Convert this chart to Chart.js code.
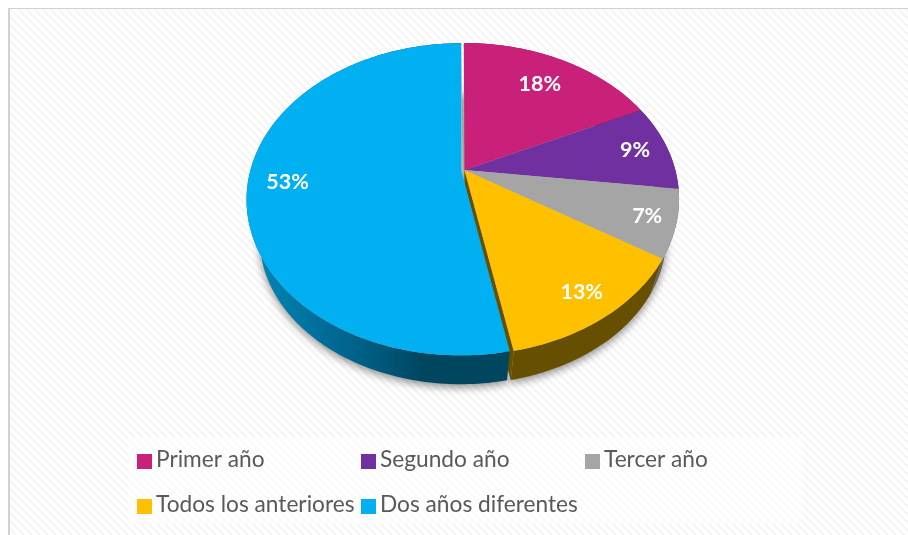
<!DOCTYPE html>
<html><head><meta charset="utf-8">
<style>html,body{margin:0;padding:0;background:#fff}canvas{display:block}</style>
<script src="https://cdn.jsdelivr.net/npm/chart.js@4"></script>
</head><body><canvas id="c" width="908" height="535"></canvas>
<script>
const categories = ['Primer año','Segundo año','Tercer año','Todos los anteriores','Dos años diferentes'];
const values = [18, 9, 7, 13, 53];
const colors = ['#C9217A','#7030A0','#A5A5A5','#FFC000','#00B0F0'];
const sideColors = ['#791349','#431D60','#636363','#665000','#00506F'];
const labelRadii = [0.75, 0.84, 0.87, 0.855, 0.815];
const sliceOffsets = [0, 0, 0, 0, 12];

const FONT = 'Lato, Carlito, sans-serif';
const P = {d:0.186, K:210.8, k:150.6, topDy:-29, lowDy:11, lowScale:0.94};

function proj(el, ang, r, level, su, sv){
  const R = el.outerRadius;
  const u = r*Math.cos(ang) + su/R, v = r*Math.sin(ang) + sv/R;
  const den = 1 - P.d*v, s = level ? P.lowScale : 1;
  return [el.x + P.K*s*u/den, el.y + (level?P.lowDy:P.topDy) + P.k*s*v/den];
}
function shiftOf(el){
  const mid = (el.startAngle+el.endAngle)/2, o = (el.options.offset||0)/4;
  return [Math.cos(mid)*o, Math.sin(mid)*o];
}
function rim(ctx, el, a, b, level, first){
  const [su,sv] = shiftOf(el);
  const n = Math.max(2, Math.ceil(Math.abs(b-a)/0.02));
  for(let i=0;i<=n;i++){
    const p = proj(el, a+(b-a)*i/n, 1, level, su, sv);
    if(i===0 && first) ctx.moveTo(p[0],p[1]); else ctx.lineTo(p[0],p[1]);
  }
}
Chart.ArcElement.prototype.draw = function(ctx){
  const [su,sv] = shiftOf(this);
  const c = proj(this, 0, 0, 0, su, sv);
  ctx.save();
  ctx.beginPath();
  ctx.moveTo(c[0],c[1]);
  rim(ctx,this,this.startAngle,this.endAngle,0,false);
  ctx.closePath();
  ctx.fillStyle = this.options.backgroundColor;
  ctx.fill();
  ctx.restore();
};

const pie3d = {
  id:'pie3d',
  beforeDraw(chart){
    const ctx = chart.ctx;
    const t = document.createElement('canvas'); t.width=8; t.height=8;
    const g = t.getContext('2d');
    g.fillStyle='#fff'; g.fillRect(0,0,8,8);
    g.fillStyle='#f5f5f5';
    for(let y=0;y<8;y++)for(let x=0;x<8;x++){ if(((x-y+16)%8)<3) g.fillRect(x,y,1,1); }
    ctx.save();
    ctx.fillStyle='#fff'; ctx.fillRect(0,0,908,535);
    ctx.fillStyle=ctx.createPattern(t,'repeat'); ctx.fillRect(10,9,898,526);
    ctx.fillStyle='#d2d2d2'; ctx.fillRect(8,8,2,527); ctx.fillRect(8,8,900,1);
    ctx.fillStyle='rgba(255,255,255,0.6)'; ctx.fillRect(128,438,673,86);
    ctx.restore();
  },
  beforeDatasetsDraw(chart){
    const ctx = chart.ctx, arcs = chart.getDatasetMeta(0).data;
    ctx.save();
    // soft shadow below the solid
    ctx.save();
    ctx.shadowColor='rgba(0,0,0,0.45)'; ctx.shadowBlur=9; ctx.shadowOffsetY=3;
    ctx.fillStyle='#b5b5b5';
    arcs.forEach(el=>{
      ctx.beginPath();
      rim(ctx,el,el.startAngle,el.endAngle,1,true);
      const c = proj(el,0,0,1,0,0);
      ctx.lineTo(c[0],c[1]);
      ctx.closePath(); ctx.fill();
    });
    ctx.restore();
    // cut wall of the slice next to the pulled-out one
    const y = arcs[3];
    const a0 = proj(y,0,0,0,0,0), a1 = proj(y,y.endAngle,1,0,0,0), a2 = proj(y,y.endAngle,1,1,0,0), a3 = proj(y,0,0,1,0,0);
    ctx.fillStyle=sideColors[3];
    ctx.beginPath(); ctx.moveTo(a0[0],a0[1]); ctx.lineTo(a1[0],a1[1]); ctx.lineTo(a2[0],a2[1]); ctx.lineTo(a3[0],a3[1]); ctx.closePath(); ctx.fill();
    // outer side walls
    arcs.forEach((el,i)=>{
      let fill = sideColors[i];
      if(i===4){
        const gr = ctx.createLinearGradient(250,0,425,0);
        gr.addColorStop(0,'#0087B8'); gr.addColorStop(0.6,'#00628A'); gr.addColorStop(1,'#00465F');
        fill = gr;
      }
      ctx.fillStyle = fill;
      ctx.beginPath();
      rim(ctx,el,el.startAngle,el.endAngle,0,true);
      rim(ctx,el,el.endAngle,el.startAngle,1,false);
      ctx.closePath(); ctx.fill();
    });
    ctx.restore();
  },
  afterDatasetsDraw(chart){
    const ctx = chart.ctx, arcs = chart.getDatasetMeta(0).data;
    ctx.save();
    ctx.fillStyle='#fff'; ctx.font='bold 21.5px '+FONT; ctx.textAlign='center'; ctx.textBaseline='middle';
    arcs.forEach((el,i)=>{
      const [su,sv] = shiftOf(el);
      const p = proj(el,(el.startAngle+el.endAngle)/2,labelRadii[i],0,su,sv);
      ctx.fillText(values[i]+'%',p[0],p[1]);
    });
    // legend
    const cols=[137,361,585], rows=[454,499];
    ctx.textAlign='left'; ctx.textBaseline='middle';
    ctx.font='22.7px '+FONT;
    categories.forEach((name,i)=>{
      const x=cols[i%3], y=rows[Math.floor(i/3)];
      ctx.fillStyle=colors[i]; ctx.fillRect(x,y,15,15);
      ctx.fillStyle='#595959'; ctx.fillText(name,x+19,y+6);
    });
    ctx.restore();
  }
};

new Chart(document.getElementById('c'),{
  type:'pie',
  data:{labels:categories,datasets:[{data:values,backgroundColor:colors,offset:sliceOffsets,borderWidth:0}]},
  options:{
    responsive:false, animation:false, rotation:-0.2,
    layout:{padding:{left:21,right:0,top:0,bottom:137}},
    plugins:{legend:{display:false},tooltip:{enabled:false},title:{display:false}}
  },
  plugins:[pie3d]
});
</script></body></html>
